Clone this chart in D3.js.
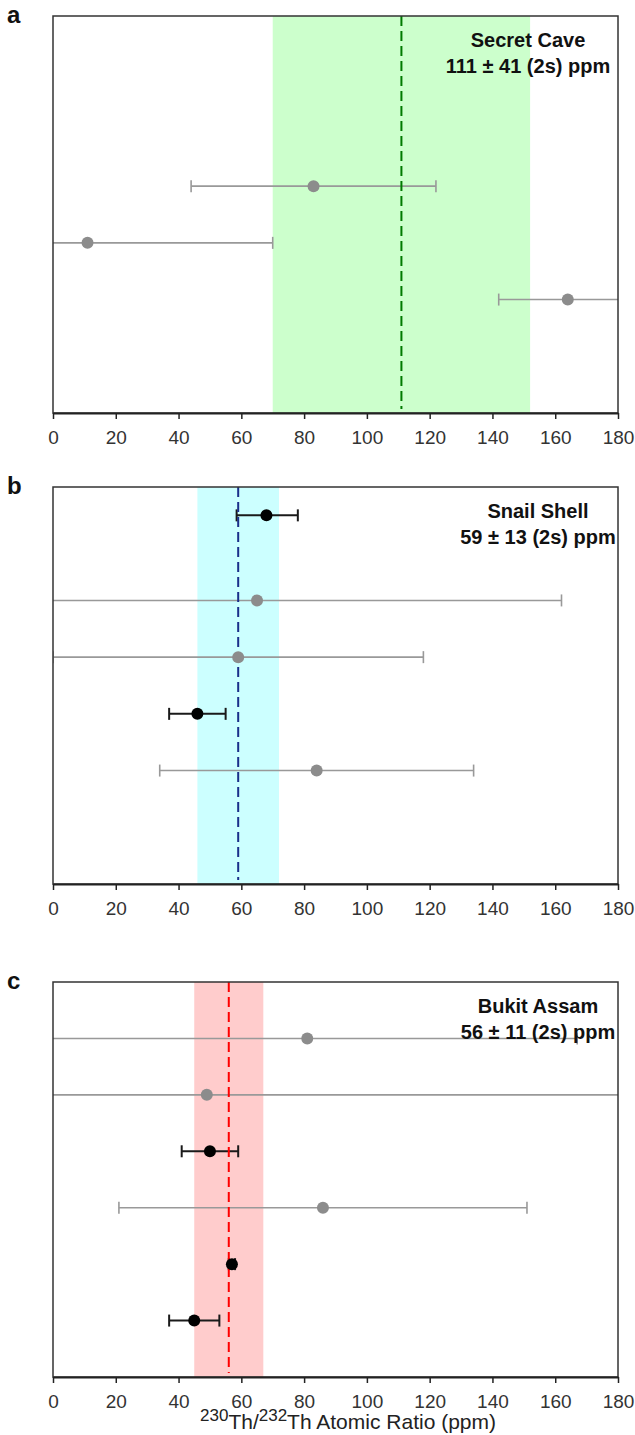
<!DOCTYPE html>
<html><head><meta charset="utf-8">
<script src="https://cdn.jsdelivr.net/npm/d3@7"></script>
<style>body{margin:0;background:#fff}svg{display:block}</style>
</head><body>
<script>
// ---- data ----
const xTicks = [0,20,40,60,80,100,120,140,160,180];
const panelLetters = ["a","b","c"];
const panelNames = ["Secret Cave","Snail Shell","Bukit Assam"];
const panelMeans = [111, 59, 56];
const panelErr = [41, 13, 11];

// panel a
const aRows = [3, 4, 5];
const aVals = [83, 11, 164];
const aLo = [44, -48, 142];
const aHi = [122, 70, 186];
const aType = ["gray","gray","gray"];
// panel b
const bRows = [0.5, 2, 3, 4, 5];
const bVals = [68, 65, 59, 46, 84];
const bLo = [58.5, -32, 0, 37, 34];
const bHi = [78, 162, 118, 55, 134];
const bType = ["black","gray","gray","black","gray"];
// panel c
const cRows = [1, 2, 3, 4, 5, 6];
const cVals = [81, 49, 50, 86, 57, 45];
const cLo = [-5, -100, 41, 21, 56, 37];
const cHi = [167, 200, 59, 151, 58, 53];
const cType = ["gray","gray","black","gray","black","black"];

const bandFill = ["#ccffcc","#ccffff","#ffcccc"];
const lineCol = ["#007a00","#1a2f8a","#ff0000"];

const W = 635, H = 1435;
const svg = d3.select("body").append("svg").attr("width",W).attr("height",H)
  .style("font-family","'Liberation Sans', Arial, sans-serif");

const left = 53, right = 618;
const tops = [16, 487, 982];
const bottoms = [413, 884, 1377];
const titleX = [528, 538, 538];
const x = d3.scaleLinear().domain([0,180]).range([left,right]);

const panels = [
  {rows:aRows, vals:aVals, lo:aLo, hi:aHi, type:aType},
  {rows:bRows, vals:bVals, lo:bLo, hi:bHi, type:bType},
  {rows:cRows, vals:cVals, lo:cLo, hi:cHi, type:cType}
];

panels.forEach((p,i)=>{
  const y = d3.scaleLinear().domain([0,7]).range([tops[i], bottoms[i]]);
  const g = svg.append("g");
  const clipId = "clip"+i;
  svg.append("defs").append("clipPath").attr("id",clipId)
    .append("rect").attr("x",left).attr("y",tops[i]).attr("width",right-left).attr("height",bottoms[i]-tops[i]);
  const inner = g.append("g").attr("clip-path",`url(#${clipId})`);
  // band
  inner.append("rect")
    .attr("x", x(panelMeans[i]-panelErr[i])).attr("y", tops[i])
    .attr("width", x(panelMeans[i]+panelErr[i]) - x(panelMeans[i]-panelErr[i]))
    .attr("height", bottoms[i]-tops[i]).attr("fill", bandFill[i]);
  // error bars
  const data = p.vals.map((v,k)=>({v, lo:p.lo[k], hi:p.hi[k], row:p.rows[k], t:p.type[k]}));
  data.forEach(d=>{
    const col = d.t==="black" ? "#1a1a1a" : "#999999";
    const sw = d.t==="black" ? 2 : 1.6;
    const yy = y(d.row);
    inner.append("line").attr("x1",x(d.lo)).attr("x2",x(d.hi)).attr("y1",yy).attr("y2",yy)
      .attr("stroke",col).attr("stroke-width",sw);
    [d.lo,d.hi].forEach(e=>{
      inner.append("line").attr("x1",x(e)).attr("x2",x(e)).attr("y1",yy-6).attr("y2",yy+6)
        .attr("stroke",col).attr("stroke-width",sw);
    });
  });
  // dashed mean line
  inner.append("line").attr("x1",x(panelMeans[i])).attr("x2",x(panelMeans[i]))
    .attr("y1",tops[i]).attr("y2",bottoms[i]-4)
    .attr("stroke",lineCol[i]).attr("stroke-width",2).attr("stroke-dasharray","10,5");
  // points
  data.forEach(d=>{
    inner.append("circle").attr("cx",x(d.v)).attr("cy",y(d.row)).attr("r",6)
      .attr("fill", d.t==="black" ? "#000" : "#8c8c8c");
  });
  // frame
  g.append("rect").attr("x",left).attr("y",tops[i]).attr("width",right-left).attr("height",bottoms[i]-tops[i])
    .attr("fill","none").attr("stroke","#333").attr("stroke-width",1.5);
  // axis
  const ax = g.append("g").attr("transform",`translate(0,${bottoms[i]})`)
    .call(d3.axisBottom(x).tickValues(xTicks).tickSize(6).tickPadding(12).tickSizeOuter(0));
  ax.select(".domain").attr("stroke","#222").attr("stroke-width",2);
  ax.selectAll(".tick line").attr("stroke","#222").attr("stroke-width",1.5);
  ax.selectAll(".tick text").attr("font-size",19).attr("fill","#333")
    .attr("font-family","'Liberation Sans', Arial, sans-serif");
  // panel letter
  g.append("text").attr("x",7).attr("y",tops[i]+7).attr("font-size",24).attr("font-weight","bold")
    .attr("fill","#111").text(panelLetters[i]);
  // title
  g.append("text").attr("x",titleX[i]).attr("y",tops[i]+31).attr("text-anchor","middle")
    .attr("font-size",20).attr("font-weight","bold").attr("fill","#111").text(panelNames[i]);
  g.append("text").attr("x",titleX[i]).attr("y",tops[i]+57).attr("text-anchor","middle")
    .attr("font-size",20).attr("font-weight","bold").attr("fill","#111")
    .text(`${panelMeans[i]} \u00b1 ${panelErr[i]} (2s) ppm`);
});

// x-axis title
const t = svg.append("text").attr("x",348).attr("y",1429).attr("text-anchor","middle")
  .attr("font-size",21).attr("fill","#222");
t.append("tspan").attr("dy",-8).attr("font-size",17).text("230");
t.append("tspan").attr("dy",8).text("Th/");
t.append("tspan").attr("dy",-8).attr("font-size",17).text("232");
t.append("tspan").attr("dy",8).text("Th Atomic Ratio (ppm)");
</script>
</body></html>
